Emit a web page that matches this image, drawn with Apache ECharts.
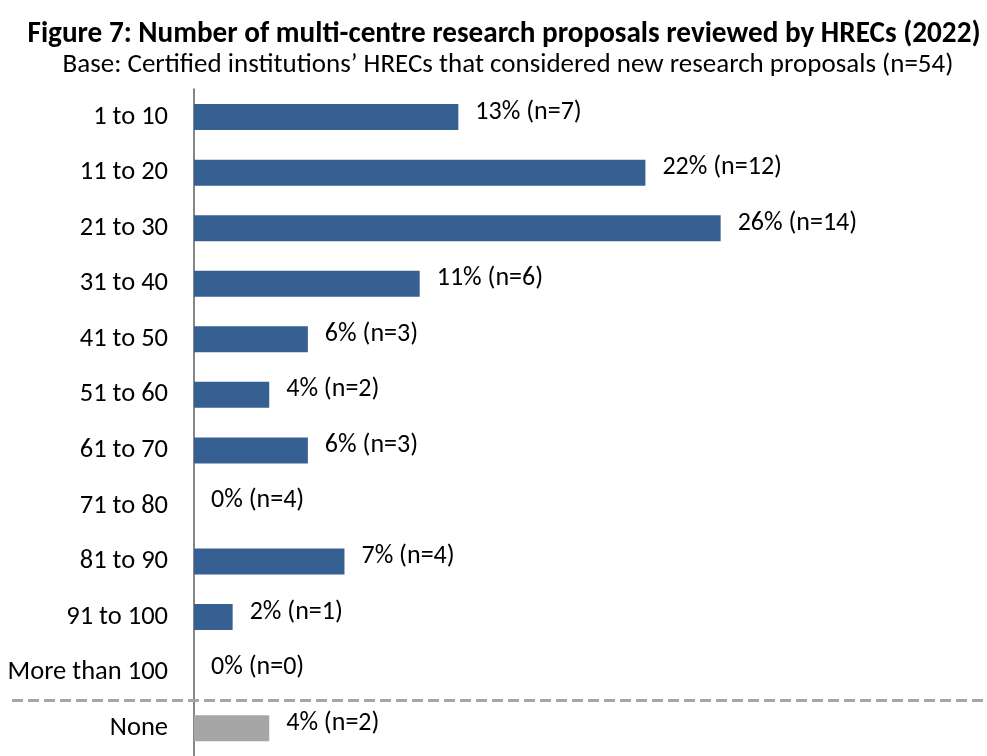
<!DOCTYPE html>
<html>
<head>
<meta charset="utf-8">
<script src="https://cdn.jsdelivr.net/npm/echarts@6/dist/echarts.min.js"></script>
<style>
html,body{margin:0;padding:0;background:#fff;}
#chart{width:987px;height:756px;}
</style>
</head>
<body>
<div id="chart"></div>
<script>
const titleText = 'Figure 7: Number of multi-centre research proposals reviewed by HRECs (2022)';
const subtitleText = 'Base: Certified institutions\u2019 HRECs that considered new research proposals (n=54)';
const categories = ['1 to 10','11 to 20','21 to 30','31 to 40','41 to 50','51 to 60','61 to 70','71 to 80','81 to 90','91 to 100','More than 100','None'];
const values = [13.0, 22.2, 25.9, 11.1, 5.6, 3.7, 5.6, 0, 7.4, 1.9, 0, 3.7];
const valueLabels = ['13% (n=7)','22% (n=12)','26% (n=14)','11% (n=6)','6% (n=3)','4% (n=2)','6% (n=3)','0% (n=4)','7% (n=4)','2% (n=1)','0% (n=0)','4% (n=2)'];
const noneIndex = 11;

const FONT = 'Carlito, Lato, "Liberation Sans", sans-serif';
const BLUE = '#366092';
const GRAY = '#a6a6a6';

const chart = echarts.init(document.getElementById('chart'), null, {renderer:'canvas'});
const option = {
  backgroundColor: '#ffffff',
  animation: false,
  title: [{
    text: titleText,
    left: 499, top: 15, textAlign: 'center',
    textStyle: {fontFamily: FONT, fontWeight: 'bold', fontSize: 29.2, color: '#000'}
  },{
    text: subtitleText,
    left: 503, top: 47, textAlign: 'center',
    textStyle: {fontFamily: FONT, fontWeight: 'normal', fontSize: 27, color: '#000'}
  }],
  grid: {left: 194, top: 89.3, width: 610, height: 676.8, containLabel: false},
  xAxis: {
    type: 'value', min: 0, max: 30,
    show: false
  },
  yAxis: {
    type: 'category', data: categories, inverse: true,
    axisLine: {show: true, lineStyle: {color: '#868686', width: 2}},
    axisTick: {show: false},
    splitLine: {show: false},
    axisLabel: {fontFamily: FONT, fontSize: 26.5, color: '#000', margin: 26}
  },
  series: [{
    type: 'bar',
    barWidth: 26,
    data: values.map((v, i) => ({value: v, itemStyle: {color: i === noneIndex ? GRAY : BLUE}})),
    label: {
      show: true, position: 'right', distance: 17, offset: [0, -5],
      fontFamily: FONT, fontSize: 26, color: '#000',
      formatter: p => valueLabels[p.dataIndex]
    }
  }]
};
chart.setOption(option);

// separator between "More than 100" and "None"
const yA = chart.convertToPixel({yAxisIndex: 0}, categories[noneIndex - 1]);
const yB = chart.convertToPixel({yAxisIndex: 0}, categories[noneIndex]);
const ySep = (yA + yB) / 2;
chart.setOption({
  graphic: [{
    type: 'line', z: 10,
    shape: {x1: 12, y1: ySep, x2: 987, y2: ySep},
    style: {stroke: GRAY, lineWidth: 3, lineDash: [11, 5]}
  }]
});
</script>
</body>
</html>
